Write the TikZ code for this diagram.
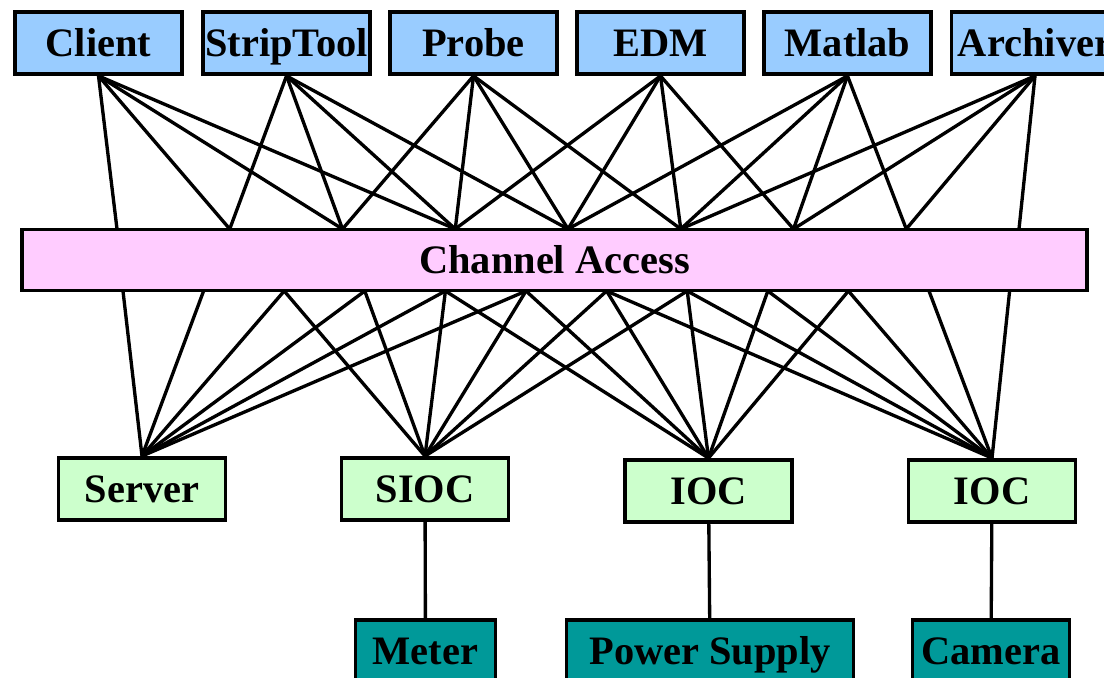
\documentclass[tikz,border=0pt]{standalone}
\usepackage{fontspec}
\setmainfont{Liberation Serif}
\usepackage{tikz}
\definecolor{toolblue}{HTML}{99CCFF}
\definecolor{capink}{HTML}{FFCCFF}
\definecolor{hostgreen}{HTML}{CCFFCC}
\definecolor{devteal}{HTML}{009999}
\tikzset{
  box/.style={draw,line width=2.2pt,inner sep=0pt,minimum height=1.24cm,
    text height=21pt,text depth=6pt,
    font=\fontsize{23}{27}\selectfont\bfseries},
  tool/.style={box,fill=toolblue,minimum width=3.34cm},
  host/.style={box,fill=hostgreen,minimum width=3.34cm},
  dev/.style={box,fill=devteal},
  link/.style={line width=1.9pt}
}
\begin{document}
\begin{tikzpicture}[x=0.02cm,y=-0.02cm]
\clip (0,0) rectangle (1104,678);
\fill[white] (0,0) rectangle (1104,678);
\node[tool] (client) at (98.5,43) {Client};
\node[tool] (striptool) at (286.5,43) {StripTool};
\node[tool] (probe) at (473.5,43) {Probe};
\node[tool] (edm) at (660.5,43) {EDM};
\node[tool] (matlab) at (847.5,43) {Matlab};
\node[tool] (archiver) at (1035,43) {Archiver};
\node[box,fill=capink,minimum width=21.3cm,minimum height=1.22cm] (ca) at (554.5,260) {Channel Access};
\node[host] (server) at (142,489) {Server};
\node[host] (sioc) at (425,489) {SIOC};
\node[host] (iocA) at (708.5,491) {IOC};
\node[host] (iocB) at (992,491) {IOC};
\node[dev,minimum width=2.8cm] (meter) at (425.5,651) {Meter};
\node[dev,minimum width=5.74cm] (psu) at (710,651) {Power Supply};
\node[dev,minimum width=3.14cm] (camera) at (991,651) {Camera};
\foreach \k in {0,...,8}
  \coordinate (t\k) at ({117+112.75*\k},229);
\foreach \k in {0,...,11}
  \coordinate (b\k) at ({123+80.6*\k},291);
\foreach \src [count=\i from 0] in {client,striptool,probe,edm,matlab,archiver}
  \foreach \j in {0,...,3}{
    \pgfmathtruncatemacro\k{\i+\j}
    \draw[link] (\src.south) -- (t\k);
  }
\foreach \dst [count=\i from 0] in {server,sioc,iocA,iocB}
  \foreach \j in {0,...,5}{
    \pgfmathtruncatemacro\k{2*\i+\j}
    \draw[link] (b\k) -- (\dst.north);
  }
\draw[link] (sioc) -- (meter);
\draw[link] (iocA) -- (psu);
\draw[link] (iocB) -- (camera);
\end{tikzpicture}
\end{document}
